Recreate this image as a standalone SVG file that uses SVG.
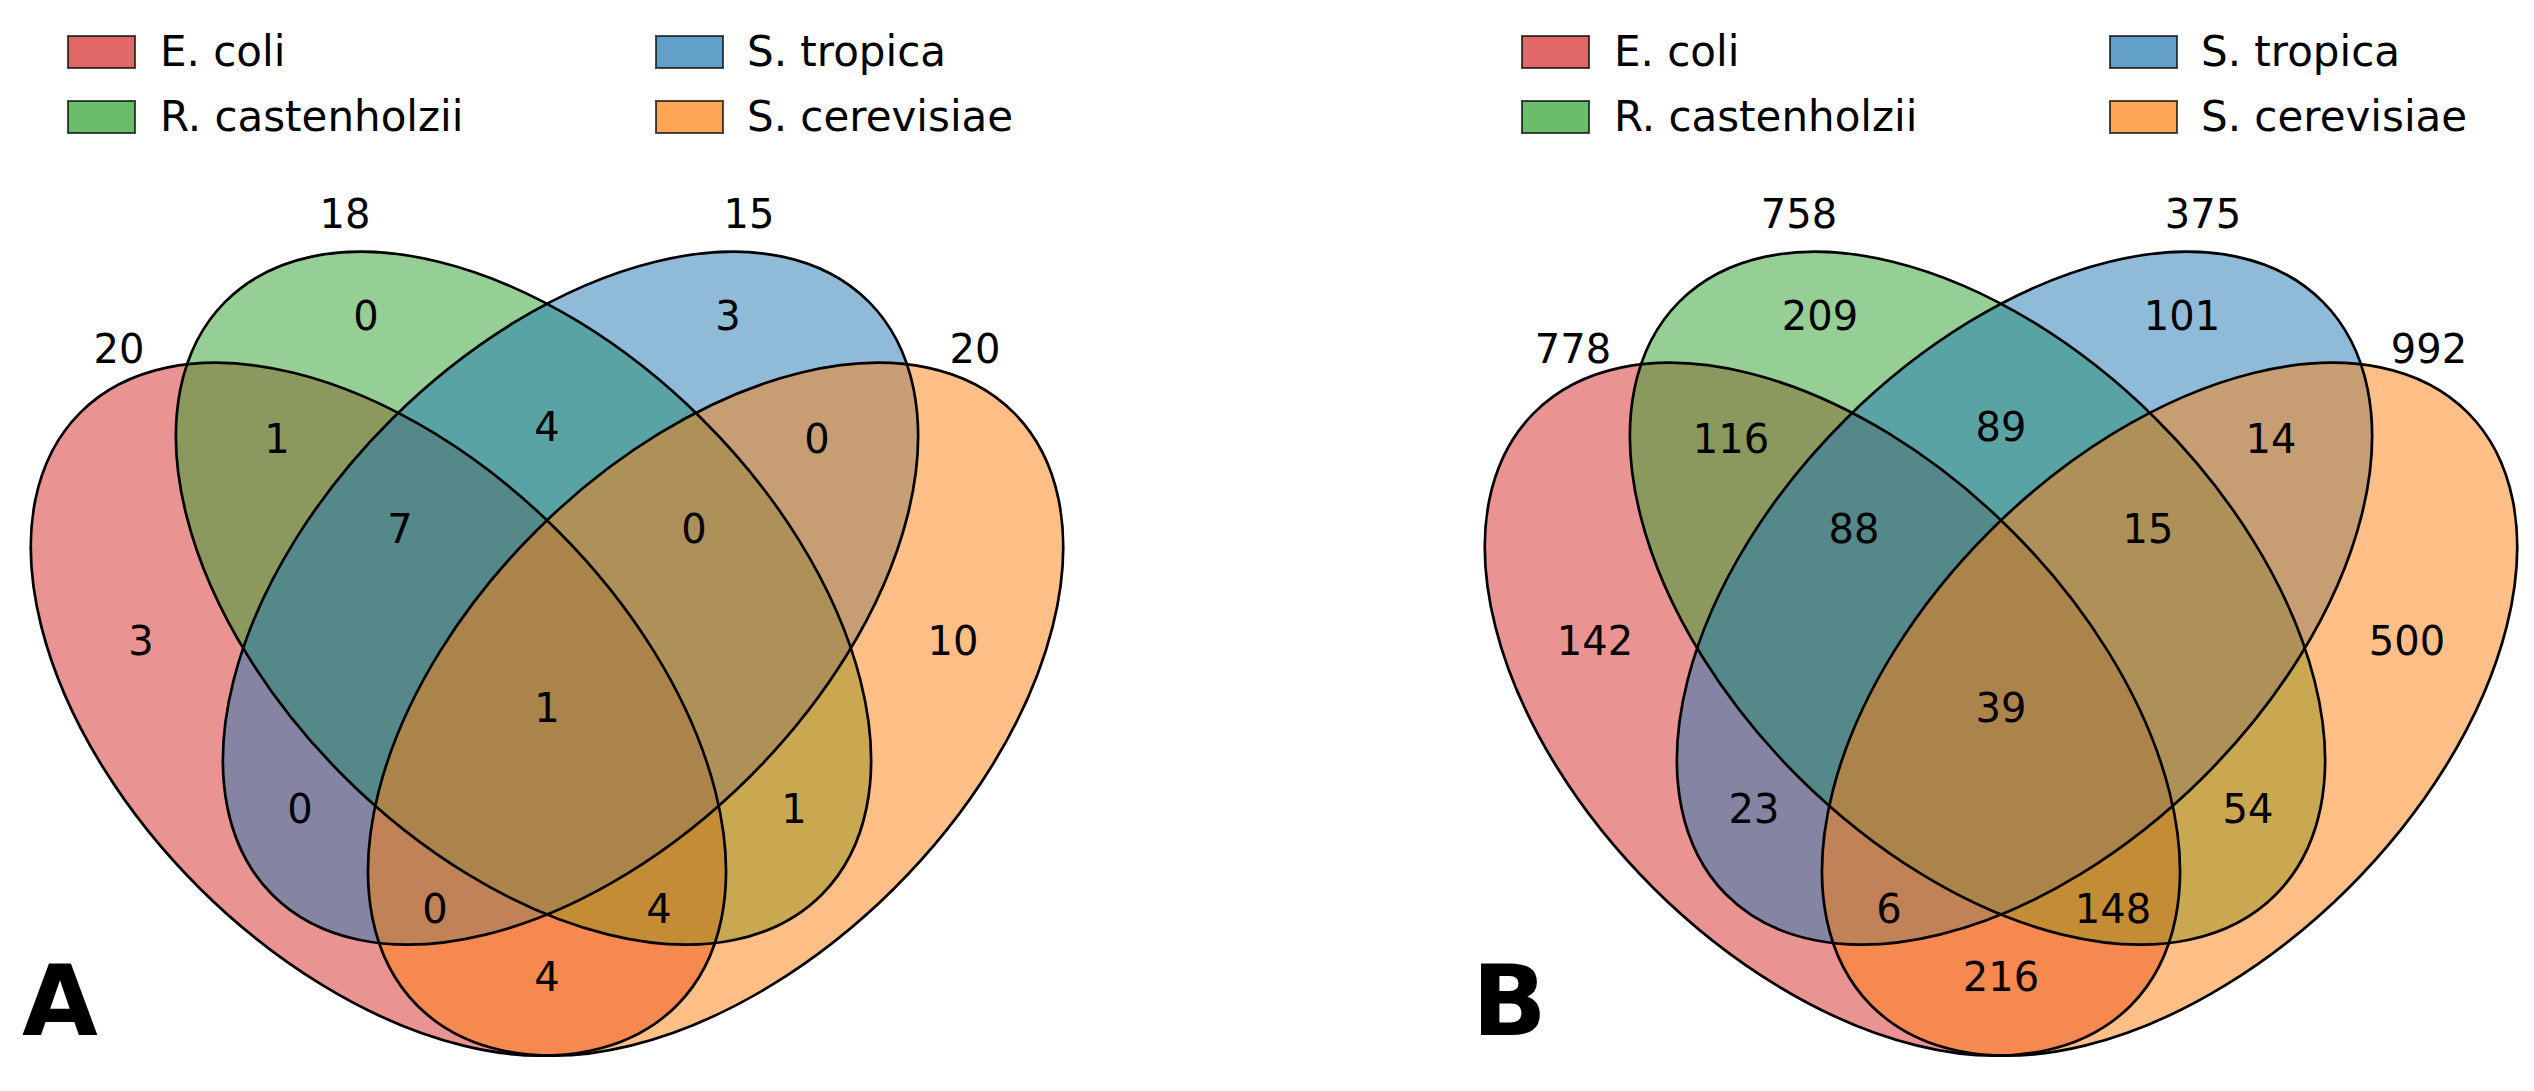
<svg xmlns="http://www.w3.org/2000/svg" width="2534" height="1091" viewBox="0 0 2534 1091">
<style>
text{font-family:"DejaVu Sans","Liberation Sans",sans-serif;fill:#000}
.n{font-size:40px;text-anchor:middle}
.lg{font-size:42px}
.pl{font-size:98px;font-weight:bold}
.edge{fill:none;stroke:#000;stroke-width:2.7}
.red{fill:#d62728;fill-opacity:.5}
.green{fill:#2ca02c;fill-opacity:.5}
.blue{fill:#1f77b4;fill-opacity:.5}
.orange{fill:#ff7f0e;fill-opacity:.5}
.lp{stroke:#000;stroke-opacity:.7;stroke-width:2;fill-opacity:.7}
</style>
<defs>
<g id="shapes">
<ellipse id="eR" cx="378.4" cy="709.2" rx="420.5" ry="253" transform="rotate(44.8 378.4 709.2)"/>
<ellipse id="eG" cx="523.5" cy="598.2" rx="420.5" ry="253" transform="rotate(44.8 523.5 598.2)"/>
<ellipse id="eB" cx="570.5" cy="598.2" rx="420.5" ry="253" transform="rotate(-44.8 570.5 598.2)"/>
<ellipse id="eO" cx="715.6" cy="709.2" rx="420.5" ry="253" transform="rotate(-44.8 715.6 709.2)"/>
</g>
<g id="legend">
<rect class="lp" x="68" y="36" width="67" height="32" fill="#d62728"/>
<rect class="lp" x="68" y="101" width="67" height="32" fill="#2ca02c"/>
<rect class="lp" x="656" y="36" width="67" height="32" fill="#1f77b4"/>
<rect class="lp" x="656" y="101" width="67" height="32" fill="#ff7f0e"/>
<text class="lg" x="160" y="66">E. coli</text>
<text class="lg" x="160" y="131">R. castenholzii</text>
<text class="lg" x="747" y="66">S. tropica</text>
<text class="lg" x="747" y="131">S. cerevisiae</text>
</g>
</defs>

<g id="panelA">
<use href="#legend"/>
<g id="A-sets">
<use id="A-ecoli" href="#eR" class="red"/>
<use id="A-rcast" href="#eG" class="green"/>
<use id="A-stropica" href="#eB" class="blue"/>
<use id="A-scerev" href="#eO" class="orange"/>
</g>
<g id="A-edges" class="edge">
<use href="#eR"/><use href="#eG"/><use href="#eB"/><use href="#eO"/>
</g>
<g id="A-labels">
<text class="n" x="119" y="363">20</text>
<text class="n" x="345" y="228">18</text>
<text class="n" x="749" y="228">15</text>
<text class="n" x="975" y="363">20</text>
<text class="n" x="366" y="329.5">0</text>
<text class="n" x="728" y="329.5">3</text>
<text class="n" x="277" y="453">1</text>
<text class="n" x="547" y="441">4</text>
<text class="n" x="817" y="453">0</text>
<text class="n" x="400" y="543">7</text>
<text class="n" x="694" y="543">0</text>
<text class="n" x="141" y="654.5">3</text>
<text class="n" x="953" y="654.5">10</text>
<text class="n" x="547" y="722">1</text>
<text class="n" x="300" y="823">0</text>
<text class="n" x="794" y="823">1</text>
<text class="n" x="435" y="923">0</text>
<text class="n" x="659" y="923">4</text>
<text class="n" x="547" y="991">4</text>
</g>
<text class="pl" x="22" y="1035">A</text>
</g>

<g id="panelB">
<use href="#legend" x="1454"/>
<g id="B-sets">
<use id="B-ecoli" href="#eR" class="red" x="1454"/>
<use id="B-rcast" href="#eG" class="green" x="1454"/>
<use id="B-stropica" href="#eB" class="blue" x="1454"/>
<use id="B-scerev" href="#eO" class="orange" x="1454"/>
</g>
<g id="B-edges" class="edge">
<use href="#eR" x="1454"/><use href="#eG" x="1454"/><use href="#eB" x="1454"/><use href="#eO" x="1454"/>
</g>
<g id="B-labels" transform="translate(1454 0)">
<text class="n" x="119" y="363">778</text>
<text class="n" x="345" y="228">758</text>
<text class="n" x="749" y="228">375</text>
<text class="n" x="975" y="363">992</text>
<text class="n" x="366" y="329.5">209</text>
<text class="n" x="728" y="329.5">101</text>
<text class="n" x="277" y="453">116</text>
<text class="n" x="547" y="441">89</text>
<text class="n" x="817" y="453">14</text>
<text class="n" x="400" y="543">88</text>
<text class="n" x="694" y="543">15</text>
<text class="n" x="141" y="654.5">142</text>
<text class="n" x="953" y="654.5">500</text>
<text class="n" x="547" y="722">39</text>
<text class="n" x="300" y="823">23</text>
<text class="n" x="794" y="823">54</text>
<text class="n" x="435" y="923">6</text>
<text class="n" x="659" y="923">148</text>
<text class="n" x="547" y="991">216</text>
</g>
<text class="pl" x="1472" y="1035">B</text>
</g>
</svg>
